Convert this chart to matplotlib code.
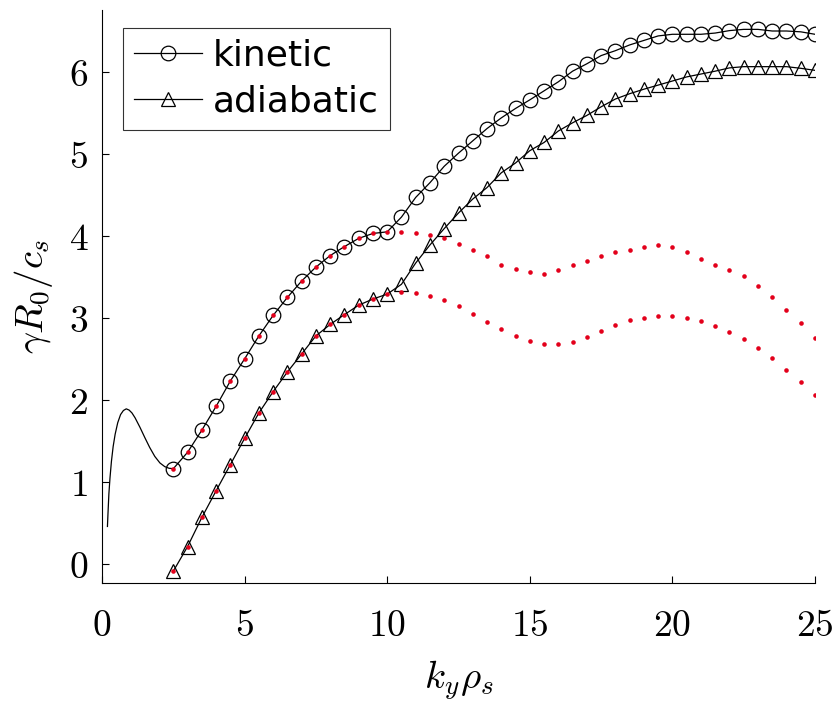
import numpy as np
import matplotlib
matplotlib.use("Agg")
import matplotlib.pyplot as plt

plt.rcParams['mathtext.fontset'] = 'cm'
plt.rcParams['font.family'] = ['DejaVu Sans']

# Valeurs
ky = [2.5, 3.0, 3.5, 4.0, 4.5, 5.0, 5.5, 6.0, 6.5, 7.0, 7.5, 8.0, 8.5, 9.0, 9.5, 10.0,
      10.5, 11.0, 11.5, 12.0, 12.5, 13.0, 13.5, 14.0, 14.5, 15.0, 15.5, 16.0, 16.5, 17.0,
      17.5, 18.0, 18.5, 19.0, 19.5, 20.0, 20.5, 21.0, 21.5, 22.0, 22.5, 23.0, 23.5, 24.0,
      24.5, 25.0]

kinetic = [1.16, 1.36, 1.63, 1.92, 2.23, 2.50, 2.78, 3.03, 3.25, 3.45, 3.62, 3.76, 3.87,
           3.97, 4.03, 4.05, 4.23, 4.47, 4.65, 4.85, 5.01, 5.16, 5.31, 5.44, 5.555, 5.66,
           5.77, 5.88, 6.01, 6.10, 6.20, 6.26, 6.33, 6.385, 6.44, 6.46, 6.46, 6.46, 6.475,
           6.505, 6.52, 6.52, 6.50, 6.50, 6.49, 6.46]

adiabatic = [-0.09, 0.21, 0.565, 0.89, 1.21, 1.53, 1.84, 2.10, 2.34, 2.56, 2.78, 2.92,
             3.04, 3.155, 3.23, 3.29, 3.41, 3.67, 3.89, 4.09, 4.28, 4.45, 4.59, 4.77, 4.89,
             5.04, 5.14, 5.28, 5.38, 5.47, 5.575, 5.67, 5.735, 5.79, 5.84, 5.89, 5.94,
             5.975, 6.01, 6.05, 6.065, 6.065, 6.065, 6.065, 6.045, 6.02]

# partie basse ky (courbe kinetic sans marqueurs)
ky_low = [0.19, 0.21, 0.24, 0.28, 0.33, 0.39, 0.46, 0.55, 0.65, 0.75, 0.85, 0.95, 1.05,
          1.16, 1.33, 1.50, 1.67, 1.85, 2.03, 2.20, 2.35, 2.5]
kinetic_low = [0.455, 0.62, 0.85, 1.05, 1.25, 1.43, 1.58, 1.72, 1.82, 1.87, 1.89, 1.875,
               1.84, 1.78, 1.665, 1.54, 1.42, 1.31, 1.23, 1.185, 1.165, 1.16]

# points rouges au-dela de ky = 10
ky_red_tail = [10.5, 11.0, 11.5, 12.0, 12.5, 13.0, 13.5, 14.0, 14.5, 15.0, 15.5, 16.0,
               16.5, 17.0, 17.5, 18.0, 18.5, 19.0, 19.5, 20.0, 20.5, 21.0, 21.5, 22.0,
               22.5, 23.0, 23.5, 24.0, 24.5, 25.0]
red_upper_tail = [4.05, 4.04, 4.01, 3.97, 3.90, 3.83, 3.76, 3.65, 3.60, 3.565, 3.54, 3.58,
                  3.65, 3.70, 3.75, 3.80, 3.83, 3.87, 3.89, 3.87, 3.80, 3.72, 3.65, 3.59,
                  3.51, 3.39, 3.26, 3.10, 2.94, 2.76]
red_lower_tail = [3.31, 3.30, 3.27, 3.22, 3.14, 3.05, 2.955, 2.86, 2.78, 2.72, 2.68, 2.68,
                  2.71, 2.77, 2.84, 2.91, 2.97, 3.00, 3.02, 3.02, 3.00, 2.96, 2.90, 2.83,
                  2.74, 2.63, 2.51, 2.37, 2.22, 2.06]

xticks = [0, 5, 10, 15, 20, 25]
yticks = [0, 1, 2, 3, 4, 5, 6]

n10 = ky.index(10.0) + 1
ky_red = ky[:n10] + ky_red_tail
red_upper = kinetic[:n10] + red_upper_tail
red_lower = adiabatic[:n10] + red_lower_tail

fig = plt.figure(figsize=(8.39, 7.01), dpi=100)
ax = fig.add_axes([0.1216, 0.1683, 0.8498, 0.8174])

ax.plot(ky_low, kinetic_low, color='k', lw=0.9)
ax.plot(ky, kinetic, color='k', lw=0.9, marker='o', ms=10.5, mfc='none', mec='k',
        mew=0.9, label='kinetic')
ax.plot(ky, adiabatic, color='k', lw=0.9, marker='^', ms=10.5, mfc='none', mec='k',
        mew=0.9, label='adiabatic')
ax.plot(ky_red, red_upper, linestyle='none', marker='o', ms=3.3, color='#e3001b', mew=0)
ax.plot(ky_red, red_lower, linestyle='none', marker='o', ms=3.3, color='#e3001b', mew=0)

ax.set_xlim(0, 25)
ax.set_ylim(-0.235, 6.756)
ax.set_xticks(xticks)
ax.set_xticklabels([r'$%d$' % t for t in xticks])
ax.set_yticks(yticks)
ax.set_yticklabels([r'$%d$' % t for t in yticks])
ax.tick_params(direction='in', length=5, width=0.8, labelsize=27, pad=10)
ax.tick_params(axis='x', pad=18)
ax.spines['top'].set_visible(False)
ax.spines['right'].set_visible(False)
for s in ['left', 'bottom']:
    ax.spines[s].set_linewidth(0.8)

ax.set_xlabel(r'$k_y\rho_s$', fontsize=28, labelpad=10)
ax.set_ylabel(r'$\gamma R_0/c_s$', fontsize=28, labelpad=10)

leg = ax.legend(loc='upper left', bbox_to_anchor=(0.029, 0.9686), borderaxespad=0,
                fontsize=26, frameon=True, fancybox=False, edgecolor='k',
                handlelength=1.9, handletextpad=0.3, borderpad=0.3, labelspacing=0.33)
leg.get_frame().set_linewidth(0.8)

plt.savefig('out.png', dpi=100)
